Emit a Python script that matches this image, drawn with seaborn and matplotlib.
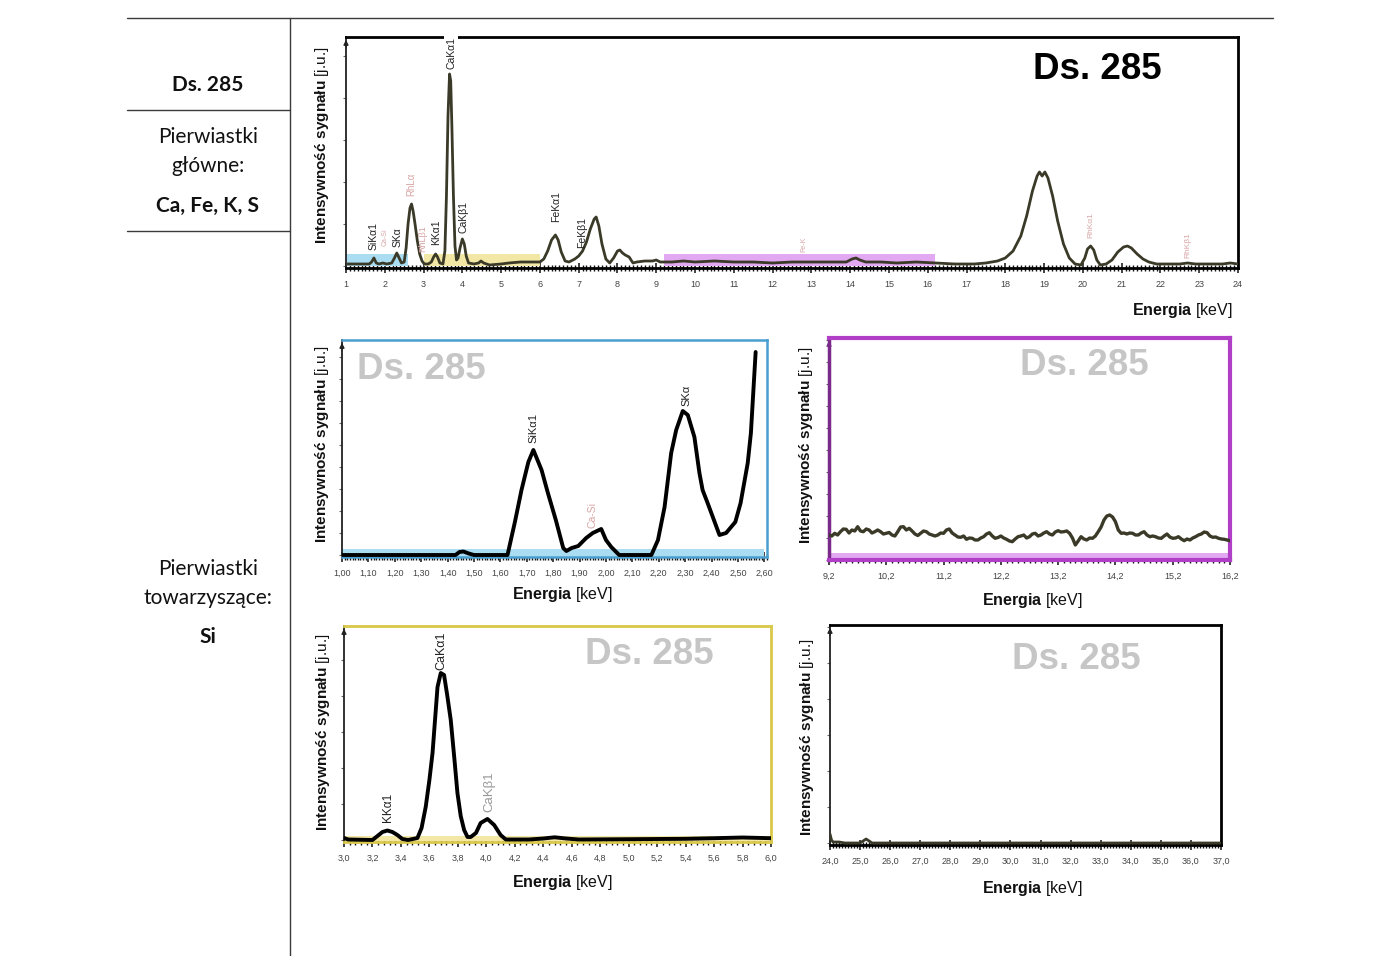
import numpy as np
import matplotlib
matplotlib.use("Agg")
import matplotlib.pyplot as plt
import seaborn as sns
from matplotlib.ticker import MultipleLocator

# full spectrum, 1-24 keV (intensity in arbitrary units)
main_energy = [1.00, 1.30, 1.60, 1.66, 1.72, 1.78, 1.85, 1.95, 2.05, 2.18, 2.25, 2.31, 2.37, 2.43,
               2.50, 2.55, 2.60, 2.65, 2.69, 2.73, 2.78, 2.84, 2.90, 2.96, 3.02, 3.12, 3.20, 3.26,
               3.31, 3.36, 3.42, 3.50, 3.55, 3.59, 3.63, 3.67, 3.70, 3.73, 3.77, 3.81, 3.85, 3.89,
               3.94, 4.00, 4.05, 4.10, 4.16, 4.30, 4.42, 4.48, 4.55, 4.70, 5.00, 5.20, 5.50, 5.80,
               6.00, 6.10, 6.20, 6.30, 6.40, 6.47, 6.55, 6.65, 6.75, 6.90, 7.00, 7.10, 7.20, 7.30,
               7.40, 7.45, 7.52, 7.60, 7.70, 7.80, 7.90, 8.00, 8.06, 8.13, 8.20, 8.30, 8.40, 8.50,
               8.70, 8.90, 9.00, 9.10, 9.40, 9.70, 10.00, 10.50, 11.00, 11.50, 12.00, 12.50, 13.00,
               13.50, 13.90, 14.05, 14.15, 14.25, 14.40, 14.80, 15.20, 15.70, 16.20, 16.70, 17.20,
               17.50, 17.80, 18.00, 18.20, 18.40, 18.55, 18.70, 18.82, 18.88, 18.95, 19.02, 19.10,
               19.22, 19.35, 19.50, 19.65, 19.80, 19.95, 20.05, 20.12, 20.20, 20.28, 20.36, 20.45,
               20.60, 20.75, 20.90, 21.05, 21.15, 21.25, 21.40, 21.55, 21.70, 21.90, 22.20, 22.50,
               22.70, 22.90, 23.30, 23.60, 23.80, 24.00]
main_counts = [2, 2, 2, 4, 8, 3, 2, 3, 2, 3, 8, 13, 8, 3,
               4, 18, 42, 58, 62, 55, 42, 25, 12, 5, 2, 2, 4, 9,
               12, 9, 3, 2, 15, 70, 150, 192, 185, 140, 70, 20, 6, 8,
               18, 27, 22, 10, 3, 2, 3, 5, 3, 1, 2, 3, 4, 4,
               4, 7, 15, 26, 31, 26, 14, 5, 4, 7, 10, 15, 24, 37,
               47, 49, 40, 22, 7, 3, 8, 15, 16, 13, 11, 9, 3, 4,
               5, 5, 6, 4, 4, 5, 4, 5, 4, 4, 3, 4, 4,
               4, 4, 7, 8, 6, 4, 4, 3, 4, 3, 2, 2,
               3, 5, 8, 15, 30, 50, 75, 90, 94, 90, 94, 88,
               70, 45, 22, 8, 2, 1, 8, 17, 20, 16, 6, 1,
               2, 6, 14, 19, 20, 18, 12, 7, 4, 2, 2, 2,
               3, 2, 2, 2, 3, 2]

# zoom 1.0-2.6 keV (Si, S)
si_energy = [1.00, 1.43, 1.445, 1.46, 1.48, 1.50, 1.627, 1.655, 1.68, 1.706, 1.725, 1.756, 1.78,
             1.81, 1.838, 1.85, 1.87, 1.895, 1.925, 1.95, 1.982, 2.00, 2.02, 2.05, 2.172, 2.197,
             2.222, 2.247, 2.266, 2.291, 2.31, 2.335, 2.354, 2.366, 2.385, 2.43, 2.455, 2.49,
             2.51, 2.537, 2.549, 2.567]
si_counts = [0, 0, 3, 3.5, 1.5, 0, 0, 33, 65, 93, 105, 85, 62,
             35, 7, 4, 7, 9, 17, 22, 26, 15, 8, 0, 0, 15,
             48, 102, 125, 144, 140, 118, 82, 65, 52, 20, 22, 33,
             52, 92, 122, 203]

# zoom 9.2-16.2 keV (background region)
bg_counts = [25, 24, 26.7, 25, 28.3, 31, 30.7, 27, 30, 29, 33.3, 29, 28.3, 31, 30, 27,
             28.3, 30, 28.3, 26, 26.7, 27.5, 25, 24, 28.3, 33, 33.3, 30, 31.7, 29, 26,
             24.5, 26.7, 29, 28.3, 26, 25, 24, 25, 27, 26.7, 30, 31, 27, 25, 23, 22.7,
             24, 20.7, 22, 21.7, 20, 20, 22, 23.3, 26, 27.3, 24, 21.7, 22.5, 24, 22,
             20.7, 19, 18.3, 21, 23.3, 24, 25, 22, 23.3, 26, 26.7, 24, 25, 27, 28.3,
             26, 25, 28, 29.3, 28, 28.3, 29, 26.7, 22, 15, 19, 23.3, 21, 20, 22, 21.7,
             24, 28.3, 33, 40, 44, 45, 43, 38.3, 30, 26.7, 27, 26, 27, 26.7, 25, 25,
             27, 28.3, 25, 23.3, 24, 23.3, 22, 21.7, 24, 26, 23, 21.7, 22, 23.3, 21,
             19.3, 21, 20, 22, 23.3, 25, 26, 28, 27.3, 24, 22.7, 23, 21.7, 21, 20.7,
             20, 19.3]
bg_energy = np.round(np.linspace(9.2, 16.2, len(bg_counts)), 2)

# zoom 3.0-6.0 keV (K, Ca)
ca_energy = [3.00, 3.03, 3.20, 3.235, 3.27, 3.305, 3.34, 3.375, 3.41, 3.45, 3.516, 3.545, 3.574,
             3.60, 3.622, 3.657, 3.68, 3.703, 3.725, 3.75, 3.775, 3.797, 3.82, 3.844, 3.868,
             3.89, 3.927, 3.96, 4.008, 4.055, 4.10, 4.137, 4.30, 4.40, 4.48, 4.56, 4.65, 5.00,
             5.40, 5.60, 5.80, 6.00]
ca_counts = [2, 0.5, 0, 4, 8, 9.5, 8, 5, 1, 0, 2, 12, 33,
             60, 87, 153, 167, 165, 145, 120, 82, 47, 24, 10, 3,
             3, 7, 17, 21, 15, 5, 0.5, 0.5, 1.5, 2.7, 1.5, 0.5, 0.8,
             1.2, 1.8, 2.5, 1.8]

# zoom 24-37 keV
hi_energy = [24.00, 24.05, 24.10, 24.30, 24.50, 25.00, 25.10, 25.20, 25.30, 25.40, 26.00,
             28.00, 30.00, 32.00, 34.00, 36.00, 37.00]
hi_counts = [9, 3, 1, 1, 0, 0, 2, 4, 2, 0, 0, 0, 0, 0, 0, 0, 0]

# energy windows shown in the zoomed panels
si_range = (1.0, 2.6)
ca_range = (3.0, 6.0)
bg_range = (9.2, 16.2)
hi_range = (24.0, 37.0)

sample = "Ds. 285"

sns.set_theme(style="white")
plt.rcParams["font.family"] = ["Liberation Sans", "DejaVu Sans"]
plt.rcParams["mathtext.fontset"] = "custom"
plt.rcParams["mathtext.bf"] = "Liberation Sans:bold"
plt.rcParams["mathtext.rm"] = "Liberation Sans"

W, H = 1400, 956
fig = plt.figure(figsize=(W / 100, H / 100), dpi=100)
fig.patch.set_facecolor("white")

# background axes in pixel coordinates for the table grid and labels
bg = fig.add_axes([0, 0, 1, 1])
bg.set_xlim(0, W)
bg.set_ylim(H, 0)
bg.axis("off")


def px_axes(left, top, right, bottom):
    return fig.add_axes([left / W, 1 - bottom / H, (right - left) / W, (bottom - top) / H])


def style(ax, xlim, ylim, ticks, labels, minor, ystep, frame, frame_lw,
          left="#222222", left_lw=1.3):
    ax.set_xlim(*xlim)
    ax.set_ylim(*ylim)
    ax.set_xticks(ticks)
    ax.set_xticklabels(labels)
    ax.xaxis.set_minor_locator(MultipleLocator(minor))
    ax.yaxis.set_major_locator(MultipleLocator(ystep))
    ax.tick_params(axis="x", which="major", direction="inout", length=7, width=1.1,
                   color="#111111", labelsize=6.5, labelcolor="#444444", pad=5, bottom=True)
    ax.tick_params(axis="x", which="minor", direction="inout", length=4.5, width=1,
                   color="#111111", bottom=True)
    ax.tick_params(axis="y", which="major", direction="out", length=2, width=0.8,
                   color="#666666", labelleft=False, left=True)
    for side in ["top", "right", "bottom"]:
        ax.spines[side].set_color(frame)
        ax.spines[side].set_linewidth(frame_lw)
    ax.spines["left"].set_color(left)
    ax.spines["left"].set_linewidth(left_lw)
    ax.set_xlabel("")
    ax.set_ylabel("")
    ax.annotate("", xy=(0, 1.0), xytext=(0, 0.94), xycoords="axes fraction",
                arrowprops=dict(arrowstyle="-|>", color=left, lw=1, mutation_scale=7))


def band(ax, rng, y0, y1, color):
    ax.fill_between(list(rng), y0, y1, color=color, lw=0, zorder=1)


def peak_labels(ax, items):
    for name, e, y, color, size in items:
        ax.text(e, y, name, rotation=90, ha="center", va="bottom", fontsize=size,
                color=color, zorder=4)


def watermark(ax, x, y, color="#c6c6c6"):
    ax.text(x, y, sample, transform=ax.transAxes, fontsize=26.5, fontweight="bold",
            color=color, ha="left", va="center", zorder=4)


def axis_labels(ylab_xy, xlab_xy, xha="center"):
    bg.text(*ylab_xy, r"$\mathbf{Intensywność\ sygnału}$ [j.u.]", rotation=90,
            ha="center", va="center", fontsize=11, color="#111111")
    bg.text(*xlab_xy, r"$\mathbf{Energia}$ [keV]", ha=xha, va="center",
            fontsize=11.5, color="#111111")


blue_band, yellow_band, violet_band = "#aadcf2", "#f3e7a6", "#e2a8f2"
pink = "#d9a5a5"
trace = "#3b3a28"

# ---- main spectrum ----
ax0 = px_axes(346, 37, 1238, 268)
band(ax0, si_range, 0, 12, blue_band)
band(ax0, ca_range, 0, 12, yellow_band)
band(ax0, bg_range, 0, 12, violet_band)
sns.lineplot(x=main_energy, y=main_counts, ax=ax0, color=trace, lw=2, estimator=None,
             sort=False, zorder=3)
t_main = list(range(1, 25))
style(ax0, (1, 24), (-2, 229), t_main, [str(t) for t in t_main], 0.1, 42, "black", 2)
peak_labels(ax0, [
    ("SiKα1", 1.72, 16, "#222222", 7.5),
    ("Ca-Si", 2.02, 20, pink, 5),
    ("SKα", 2.34, 19, "#222222", 7.5),
    ("RhLα", 2.68, 70, pink, 7),
    ("RhLβ1", 2.99, 14, pink, 6.5),
    ("KKα1", 3.32, 21, "#222222", 7.5),
    ("CaKβ1", 4.02, 33, "#222222", 7.5),
    ("FeKα1", 6.42, 44, "#222222", 7.5),
    ("FeKβ1", 7.09, 18, "#222222", 7.5),
    ("Fe-K", 12.8, 14, pink, 5),
    ("RhKα1", 20.2, 28, pink, 6),
    ("RhKβ1", 22.7, 8, pink, 6),
])
ax0.text(3.71, 197, "CaKα1", rotation=90, ha="center", va="bottom", fontsize=7.5,
         color="#222222", zorder=5,
         bbox=dict(facecolor="white", edgecolor="none", pad=1.5))
watermark(ax0, 0.770, 0.861, color="black")
axis_labels((322, 145), (1233, 310), xha="right")

# ---- Si / S window ----
ax1 = px_axes(342, 340, 767, 557)
band(ax1, si_range, -2, 6, blue_band)
sns.lineplot(x=si_energy, y=si_counts, ax=ax1, color="black", lw=2.8, estimator=None,
             sort=False, zorder=3)
t1 = np.round(np.arange(1.0, 2.601, 0.1), 2)
style(ax1, (1.0, 2.61), (-2, 215), t1, [f"{t:.2f}".replace(".", ",") for t in t1],
      0.01, 22, "#4b9fd0", 1.8)
peak_labels(ax1, [
    ("SiKα1", 1.725, 112, "#222222", 8),
    ("Ca-Si", 1.95, 27, pink, 7.5),
    ("SKα", 2.306, 149, "#222222", 8),
])
watermark(ax1, 0.035, 0.862)
axis_labels((322, 444), (562, 594))

# ---- background window ----
ax2 = px_axes(829, 338, 1230, 560)
band(ax2, bg_range, 0, 7, violet_band)
sns.lineplot(x=bg_energy, y=bg_counts, ax=ax2, color=trace, lw=2.4, estimator=None,
             sort=False, zorder=3)
t2 = np.round(np.arange(9.2, 16.21, 1.0), 1)
style(ax2, bg_range, (0, 222), t2, [f"{t:.1f}".replace(".", ",") for t in t2],
      0.1, 22, "#b03ec6", 3, left="#7a2a8a", left_lw=2.5)
watermark(ax2, 0.476, 0.874)
axis_labels((806, 445), (1032, 601))

# ---- K / Ca window ----
ax3 = px_axes(344, 626, 771, 842)
band(ax3, ca_range, -1, 4.5, yellow_band)
sns.lineplot(x=ca_energy, y=ca_counts, ax=ax3, color="black", lw=2.8, estimator=None,
             sort=False, zorder=3)
t3 = np.round(np.arange(3.0, 6.01, 0.2), 1)
style(ax3, ca_range, (-2, 214), t3, [f"{t:.1f}".replace(".", ",") for t in t3],
      0.04, 36, "#d9c84a", 2)
peak_labels(ax3, [
    ("CaKα1", 3.687, 170, "#222222", 9),
    ("KKα1", 3.31, 18, "#222222", 8.5),
    ("CaKβ1", 4.02, 28, "#999999", 9.5),
])
watermark(ax3, 0.564, 0.870)
axis_labels((323, 732), (562, 882))

# ---- high energy window ----
ax4 = px_axes(830, 625, 1221, 845)
sns.lineplot(x=hi_energy, y=hi_counts, ax=ax4, color=trace, lw=2, estimator=None,
             sort=False, zorder=3)
t4 = np.round(np.arange(24.0, 37.01, 1.0), 1)
style(ax4, hi_range, (-2, 218), t4, [f"{t:.1f}".replace(".", ",") for t in t4],
      0.1, 36, "black", 2)
watermark(ax4, 0.465, 0.845)
axis_labels((807, 737), (1032, 889))

# ---- table grid and left column ----
line_kw = dict(color="#3a3a3a", lw=1)
bg.plot([127, 1273], [18, 18], **line_kw)
bg.plot([290, 290], [18, 956], **line_kw)
bg.plot([127, 290], [110, 110], **line_kw)
bg.plot([127, 290], [231, 231], **line_kw)

cell_font = ["Lato", "DejaVu Sans"]
cell_texts = [
    (85, sample, "bold"),
    (137, "Pierwiastki", "normal"),
    (166, "główne:", "normal"),
    (206, "Ca, Fe, K, S", "bold"),
    (569, "Pierwiastki", "normal"),
    (598, "towarzyszące:", "normal"),
    (637, "Si", "bold"),
]
for y, txt, weight in cell_texts:
    bg.text(208, y, txt, ha="center", va="center", fontsize=15, fontweight=weight,
            family=cell_font, color="#111111")

fig.savefig("out.png", dpi=100, facecolor="white")
